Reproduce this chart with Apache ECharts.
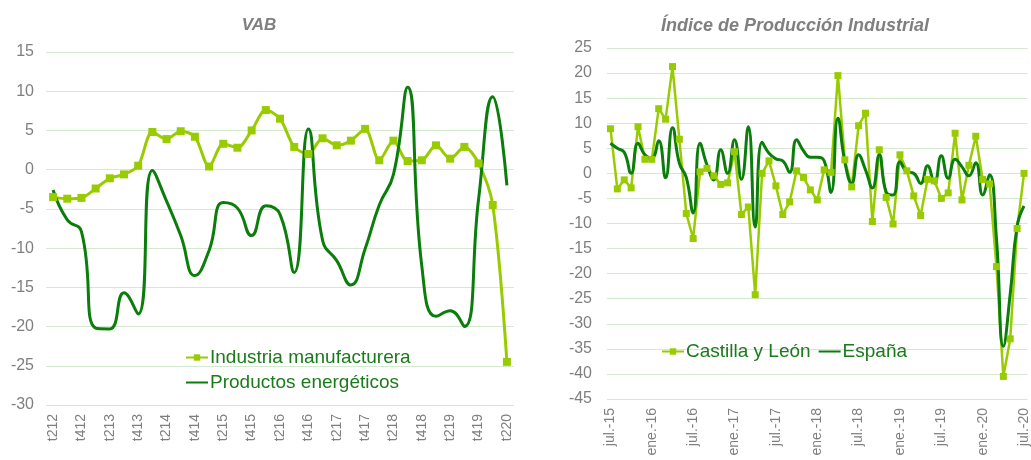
<!DOCTYPE html>
<html>
<head>
<meta charset="utf-8">
<script src="https://cdn.jsdelivr.net/npm/echarts@6/dist/echarts.min.js"></script>
<style>
  html, body { margin: 0; padding: 0; background: #fff; overflow: hidden; }
  #chart { width: 1031px; height: 460px; }
</style>
</head>
<body>
<div id="chart"></div>
<script>
// VAB (trimestral)
const trimestres = [
  't212','t312','t412','t113','t213','t313','t413','t114','t214','t314','t414',
  't115','t215','t315','t415','t116','t216','t316','t416','t117','t217','t317',
  't417','t118','t218','t318','t418','t119','t219','t319','t419','t120','t220'
];
const industriaManufacturera = [
  -3.5, -3.7, -3.6, -2.4, -1.1, -0.6, 0.5, 4.8, 3.9, 4.9, 4.2,
  0.4, 3.3, 2.8, 5.0, 7.6, 6.5, 2.9, 2.0, 4.0, 3.1, 3.7,
  5.2, 1.2, 3.7, 1.1, 1.2, 3.1, 1.4, 2.9, 0.8, -4.5, -24.5
];
const productosEnergeticos = [
  -2.6, -6.4, -7.9, -20.2, -20.3, -15.7, -18.4, -0.1, -4.0, -8.4, -13.5,
  -10.3, -4.2, -4.9, -8.4, -4.6, -5.7, -13.1, 5.2, -9.0, -11.6, -14.7,
  -10.1, -4.5, -0.6, 10.5, -12.3, -18.7, -18.0, -20.0, -3.8, 9.3, -2.0
];

// Índice de Producción Industrial (mensual)
const meses = [
  'jul.-15','ago.-15','sep.-15','oct.-15','nov.-15','dic.-15',
  'ene.-16','feb.-16','mar.-16','abr.-16','may.-16','jun.-16',
  'jul.-16','ago.-16','sep.-16','oct.-16','nov.-16','dic.-16',
  'ene.-17','feb.-17','mar.-17','abr.-17','may.-17','jun.-17',
  'jul.-17','ago.-17','sep.-17','oct.-17','nov.-17','dic.-17',
  'ene.-18','feb.-18','mar.-18','abr.-18','may.-18','jun.-18',
  'jul.-18','ago.-18','sep.-18','oct.-18','nov.-18','dic.-18',
  'ene.-19','feb.-19','mar.-19','abr.-19','may.-19','jun.-19',
  'jul.-19','ago.-19','sep.-19','oct.-19','nov.-19','dic.-19',
  'ene.-20','feb.-20','mar.-20','abr.-20','may.-20','jun.-20',
  'jul.-20'
];
const castillaLeon = [
  8.9, -3.1, -1.3, -2.9, 9.3, 2.8, 2.8, 12.9, 10.8, 21.3, 6.8, -8.0,
  -13.0, 0.3, 1.0, -0.5, -2.2, -1.9, 4.3, -8.2, -6.7, -24.2, 0.0, 2.5,
  -2.5, -8.2, -5.7, 0.5, -0.8, -3.3, -5.3, 0.7, 0.2, 19.5, 2.7, -2.7,
  9.5, 12.0, -9.6, 4.7, -4.8, -10.1, 3.7, 0.5, -4.5, -8.4, -1.2, -1.5,
  -5.0, -3.9, 8.0, -5.3, 1.6, 7.4, -1.2, -2.1, -18.6, -40.5, -33.0, -11.0,
  0.0
];
const espana = [
  6.0, 5.0, 4.2, 0.0, 6.0, 3.7, 3.0, 6.5, -0.9, 9.1, 2.0, -0.8,
  -7.9, 6.0, 1.7, -1.3, 4.7, 0.0, 6.7, -1.2, 9.3, -10.7, 6.2, 4.0,
  2.9, 2.5, 0.2, 6.7, 4.5, 3.2, 3.2, 2.5, -3.8, 11.0, 2.3, -2.0,
  3.7, 0.7, -2.9, 3.7, -3.7, -4.3, 2.3, 0.3, 0.0, -2.0, 1.5, -1.9,
  3.5, -1.0, 2.8, 1.3, -0.5, 2.1, -4.3, -0.3, -13.0, -34.5, -24.0, -10.5,
  -6.5
];

const verdeClaro = '#99cc00';
const verdeOscuro = '#0b7d0b';
const gris = '#7f7f7f';
const fuente = 'Liberation Sans, Arial, sans-serif';

const chart = echarts.init(document.getElementById('chart'));

function ejeX(idx, datos, intervalo) {
  return {
    type: 'category',
    gridIndex: idx,
    data: datos,
    boundaryGap: true,
    axisLine: { show: false },
    axisTick: { show: false },
    axisLabel: {
      rotate: 90,
      interval: intervalo,
      margin: 9,
      color: gris,
      fontSize: 14,
      fontFamily: fuente
    }
  };
}

function ejeY(idx, min, max, margen) {
  return {
    type: 'value',
    gridIndex: idx,
    min: min,
    max: max,
    interval: 5,
    axisLine: { show: false },
    axisTick: { show: false },
    axisLabel: { color: gris, fontSize: 16, fontFamily: fuente, margin: margen },
    splitLine: { lineStyle: { color: '#d5e8d0', width: 1 } }
  };
}

const estiloLeyenda = { color: '#1b7a1b', fontSize: 19, fontFamily: fuente, padding: [0, 0, 0, -3] };
const sinSimbolo = { opacity: 0 };

chart.setOption({
  animation: false,
  title: [
    {
      text: 'VAB',
      left: 254, top: 12,
      textAlign: 'center',
      textStyle: { color: gris, fontSize: 17, fontWeight: 'bold', fontStyle: 'italic', fontFamily: fuente }
    },
    {
      text: 'Índice de Producción Industrial',
      left: 790, top: 12,
      textAlign: 'center',
      textStyle: { color: gris, fontSize: 18, fontWeight: 'bold', fontStyle: 'italic', fontFamily: fuente }
    }
  ],
  legend: [
    {
      orient: 'vertical',
      left: 180, top: 343,
      itemWidth: 22, itemHeight: 8, itemGap: 6,
      data: ['Industria manufacturera', { name: 'Productos energéticos', itemStyle: sinSimbolo }],
      textStyle: estiloLeyenda
    },
    {
      orient: 'horizontal',
      left: 656, top: 337,
      itemWidth: 22, itemHeight: 8, itemGap: 7,
      data: ['Castilla y León', { name: 'España', itemStyle: sinSimbolo }],
      textStyle: estiloLeyenda
    }
  ],
  grid: [
    { left: 46, top: 52, width: 468, height: 353 },
    { left: 607, top: 48, width: 425, height: 351 }
  ],
  xAxis: [ejeX(0, trimestres, 1), ejeX(1, meses, 5)],
  yAxis: [ejeY(0, -30, 15, 12), ejeY(1, -45, 25, 15)],
  series: [
    {
      name: 'Industria manufacturera',
      type: 'line',
      xAxisIndex: 0, yAxisIndex: 0,
      data: industriaManufacturera,
      smooth: 0.3,
      symbol: 'rect', symbolSize: 8,
      itemStyle: { color: verdeClaro },
      lineStyle: { color: verdeClaro, width: 3 }
    },
    {
      name: 'Productos energéticos',
      type: 'line',
      xAxisIndex: 0, yAxisIndex: 0,
      data: productosEnergeticos,
      smooth: 0.5,
      showSymbol: false,
      itemStyle: { color: verdeOscuro },
      lineStyle: { color: verdeOscuro, width: 3 }
    },
    {
      name: 'Castilla y León',
      type: 'line',
      xAxisIndex: 1, yAxisIndex: 1,
      data: castillaLeon,
      symbol: 'rect', symbolSize: 7,
      showAllSymbol: true,
      itemStyle: { color: verdeClaro },
      lineStyle: { color: verdeClaro, width: 2.5 }
    },
    {
      name: 'España',
      type: 'line',
      xAxisIndex: 1, yAxisIndex: 1,
      data: espana,
      smooth: 0.5,
      showSymbol: false,
      itemStyle: { color: verdeOscuro },
      lineStyle: { color: verdeOscuro, width: 3 }
    }
  ]
});

window.addEventListener('resize', () => chart.resize());
</script>
</body>
</html>
